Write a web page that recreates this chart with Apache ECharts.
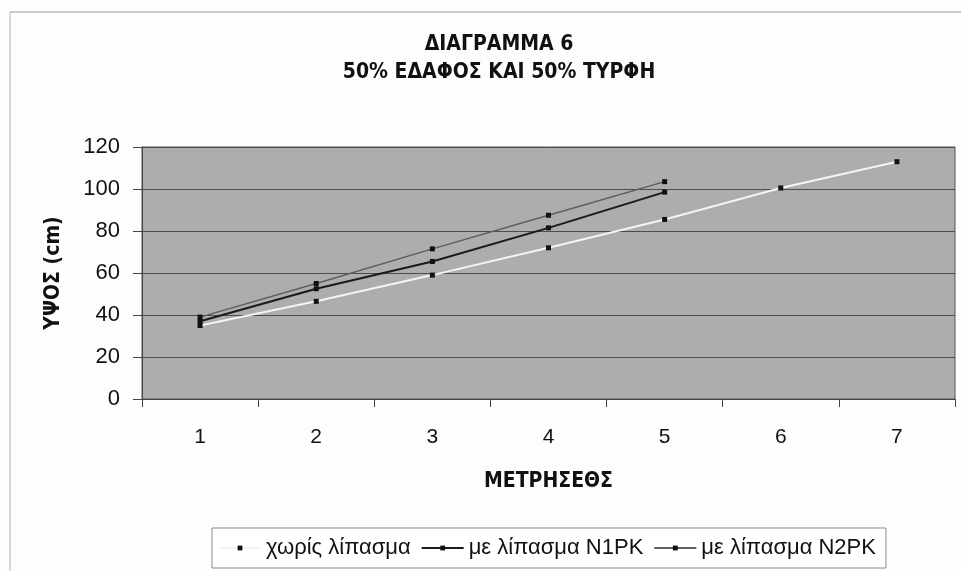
<!DOCTYPE html>
<html>
<head>
<meta charset="utf-8">
<title>ΔΙΑΓΡΑΜΜΑ 6</title>
<script src="https://cdn.jsdelivr.net/npm/echarts@6/dist/echarts.min.js"></script>
<style>
  html, body { margin: 0; padding: 0; background: #fdfdfd; }
  #chart { width: 961px; height: 571px; }
</style>
</head>
<body>
<div id="chart"></div>
<script>
// Measurement rounds (x axis) and plant height in cm (y axis)
const categories = ['1', '2', '3', '4', '5', '6', '7'];
const noFertilizer = [35, 46.5, 59, 72, 85.5, 100.5, 113];
const fertN1PK = [37, 52.5, 65.5, 81.5, 98.5];
const fertN2PK = [39, 55, 71.5, 87.5, 103.5];
const yTicks = [0, 20, 40, 60, 80, 100, 120];

const seriesNames = ['χωρίς λίπασμα', 'με λίπασμα N1PK', 'με λίπασμα N2PK'];

const boldFont = "'Liberation Sans Narrow', 'DejaVu Sans Condensed', 'Liberation Sans', Arial, sans-serif";
const plainFont = "'Liberation Sans', Arial, sans-serif";

const chart = echarts.init(document.getElementById('chart'), null, { renderer: 'canvas' });

const marker = { symbol: 'rect', symbolSize: 5, itemStyle: { color: '#111' } };

chart.setOption({
  animation: false,
  backgroundColor: '#fdfdfd',
  title: {
    text: 'ΔΙΑΓΡΑΜΜΑ 6\n50% ΕΔΑΦΟΣ ΚΑΙ 50% ΤΥΡΦΗ',
    left: 494,
    top: 26,
    textAlign: 'center',
    textStyle: { fontFamily: boldFont, fontWeight: 'bold', fontSize: 21, lineHeight: 28, color: '#111' }
  },
  graphic: [
    // outer chart frame (top and left edges)
    { type: 'line', shape: { x1: 10, y1: 12, x2: 961, y2: 12 }, style: { stroke: '#9a9a9a', lineWidth: 1 } },
    { type: 'line', shape: { x1: 10, y1: 12, x2: 10, y2: 571 }, style: { stroke: '#b0b0b0', lineWidth: 1 } }
  ],
  grid: {
    left: 142, right: 6, top: 147, bottom: 172,
    show: true,
    backgroundColor: '#adadad',
    borderColor: '#555',
    borderWidth: 1
  },
  legend: {
    data: seriesNames,
    left: 212,
    top: 528,
    orient: 'horizontal',
    padding: [9, 10, 9, 6],
    itemWidth: 42,
    itemHeight: 6,
    itemGap: 10,
    backgroundColor: '#ffffff',
    borderColor: '#8a8a8a',
    borderWidth: 1,
    textStyle: { fontFamily: plainFont, fontSize: 22, color: '#111' }
  },
  xAxis: {
    type: 'category',
    data: categories,
    boundaryGap: true,
    name: 'ΜΕΤΡΗΣΕΘΣ',
    nameLocation: 'middle',
    nameGap: 72,
    nameTextStyle: { fontFamily: boldFont, fontWeight: 'bold', fontSize: 21, color: '#111' },
    axisLine: { show: true, lineStyle: { color: '#444', width: 1 } },
    axisTick: { show: true, length: 8, lineStyle: { color: '#444' } },
    axisLabel: { fontFamily: plainFont, fontSize: 21, color: '#111', margin: 28 },
    splitLine: { show: false }
  },
  yAxis: {
    type: 'value',
    min: yTicks[0],
    max: yTicks[yTicks.length - 1],
    interval: yTicks[1] - yTicks[0],
    name: 'ΥΨΟΣ (cm)',
    nameLocation: 'middle',
    nameGap: 78,
    nameRotate: 90,
    nameTextStyle: { fontFamily: boldFont, fontWeight: 'bold', fontSize: 21, color: '#111' },
    axisLine: { show: true, lineStyle: { color: '#444', width: 1 } },
    axisTick: { show: true, length: 9, lineStyle: { color: '#444' } },
    axisLabel: { fontFamily: plainFont, fontSize: 22, color: '#111', margin: 22 },
    splitLine: { show: true, lineStyle: { color: '#4d4d4d', width: 1 } }
  },
  series: [
    {
      name: seriesNames[0], type: 'line', data: noFertilizer,
      ...marker,
      lineStyle: { color: '#f4f4f4', width: 2 },
      z: 2
    },
    {
      name: seriesNames[1], type: 'line', data: fertN1PK,
      ...marker,
      lineStyle: { color: '#1a1a1a', width: 2 },
      z: 3
    },
    {
      name: seriesNames[2], type: 'line', data: fertN2PK,
      ...marker,
      lineStyle: { color: '#5e5e5e', width: 1.5 },
      z: 4
    }
  ]
});
</script>
</body>
</html>
